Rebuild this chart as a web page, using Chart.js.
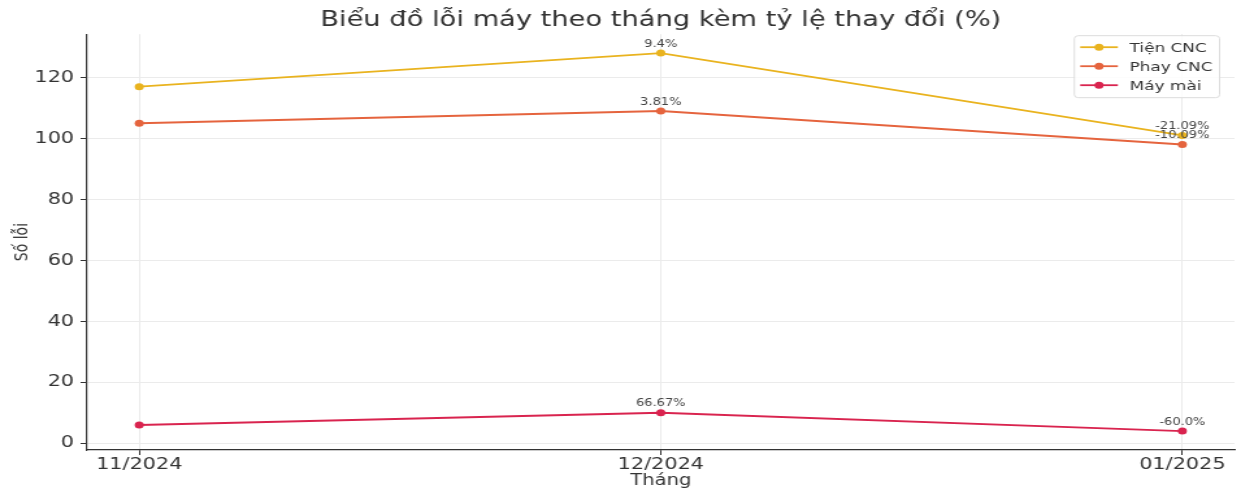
<!DOCTYPE html>
<html lang="vi">
<head>
<meta charset="utf-8">
<title>Biểu đồ lỗi máy theo tháng</title>
<script src="https://cdn.jsdelivr.net/npm/chart.js@4.4.1/dist/chart.umd.min.js"></script>
<style>
  html, body { margin: 0; padding: 0; background: #fff; overflow: hidden; }
</style>
</head>
<body>
<!-- drawing surface is rendered narrower and widened on screen -->
<canvas id="c" width="955" height="490" style="display:block;width:1241px;height:490px"></canvas>
<script>
// Months on the x axis
const months = ['11/2024', '12/2024', '01/2025'];

// Number of faults per machine type
const tienCNC = [117, 128, 101];
const phayCNC = [105, 109, 98];
const mayMai  = [6, 10, 4];

// Series names
const seriesNames = ['Tiện CNC', 'Phay CNC', 'Máy mài'];

// Y axis tick values
const yTicks = [0, 20, 40, 60, 80, 100, 120];

const FONT = "'DejaVu Sans', 'Liberation Sans', sans-serif";
const colors = ['#e9b31f', '#e5643e', '#d9244f'];
const seriesValues = [tienCNC, phayCNC, mayMai];

// Percent change, printed with up to two decimals (at least one)
function pctText(prev, cur) {
  const r = Math.round((cur - prev) / prev * 10000) / 100;
  return (Number.isInteger(r) ? r.toFixed(1) : String(r)) + '%';
}

// Writes the month-over-month change above each point after the first
const changeLabels = {
  id: 'changeLabels',
  afterDatasetsDraw(chart) {
    const ctx = chart.ctx;
    ctx.save();
    ctx.font = '10px ' + FONT;
    ctx.fillStyle = '#444';
    ctx.textAlign = 'center';
    ctx.textBaseline = 'middle';
    chart.data.datasets.forEach((ds, di) => {
      const meta = chart.getDatasetMeta(di);
      const vals = seriesValues[di];
      for (let i = 1; i < vals.length; i++) {
        const pt = meta.data[i];
        ctx.fillText(pctText(vals[i - 1], vals[i]), pt.x, pt.y - 9);
      }
    });
    ctx.restore();
  }
};

// Framed legend in the upper right corner of the plot
const boxLegend = {
  id: 'boxLegend',
  afterDraw(chart) {
    const ctx = chart.ctx;
    const ca = chart.chartArea;
    ctx.save();
    ctx.font = '13px ' + FONT;
    const labels = chart.data.datasets.map(d => d.label);
    const textW = Math.max(...labels.map(l => ctx.measureText(l).width));
    const pad = 5, handle = 29, gap = 9, rowH = 19;
    const w = pad + handle + gap + textW + pad;
    const h = rowH * labels.length + 5;
    const right = ca.right - 12;
    const left = right - w;
    const top = ca.top + 1;
    ctx.fillStyle = 'rgba(255,255,255,0.85)';
    ctx.strokeStyle = '#dcdcdc';
    ctx.lineWidth = 1;
    ctx.beginPath();
    ctx.roundRect(left + 0.5, top + 0.5, w, h, 3);
    ctx.fill();
    ctx.stroke();
    chart.data.datasets.forEach((ds, i) => {
      const y = top + 12 + i * rowH;
      ctx.strokeStyle = ds.borderColor;
      ctx.lineWidth = 1.8;
      ctx.beginPath();
      ctx.moveTo(left + pad, y);
      ctx.lineTo(left + pad + handle, y);
      ctx.stroke();
      ctx.fillStyle = ds.borderColor;
      ctx.beginPath();
      ctx.arc(left + pad + handle / 2, y, 3.5, 0, Math.PI * 2);
      ctx.fill();
      ctx.fillStyle = '#333';
      ctx.textAlign = 'left';
      ctx.textBaseline = 'middle';
      ctx.fillText(ds.label, left + pad + handle + gap, y + 1);
    });
    ctx.restore();
  }
};

const datasets = seriesValues.map((vals, i) => ({
  label: seriesNames[i],
  data: vals.map((v, k) => ({ x: k, y: v })),
  borderColor: colors[i],
  backgroundColor: colors[i],
  borderWidth: 1.9,
  pointRadius: 3.5,
  pointBorderWidth: 0,
  pointBackgroundColor: colors[i],
  tension: 0,
  fill: false
}));

new Chart(document.getElementById('c'), {
  type: 'line',
  data: { datasets },
  plugins: [changeLabels, boxLegend],
  options: {
    responsive: false,
    devicePixelRatio: 1,
    animation: false,
    layout: { padding: { left: 0, right: 5, top: 0, bottom: 0 } },
    plugins: {
      legend: { display: false },
      tooltip: { enabled: false },
      title: {
        display: true,
        fullSize: false,
        text: 'Biểu đồ lỗi máy theo tháng kèm tỷ lệ thay đổi (%)',
        color: '#333',
        font: { family: FONT, size: 21, weight: 'normal' },
        padding: { top: 8, bottom: 1 }
      }
    },
    scales: {
      x: {
        type: 'linear',
        position: 'bottom',
        min: -0.1,
        max: 2.1,
        afterBuildTicks: s => { s.ticks = months.map((m, i) => ({ value: i })); },
        afterFit: s => { s.height = 40; },
        ticks: {
          autoSkip: false,
          color: '#333',
          padding: 0,
          font: { family: FONT, size: 16 },
          callback: v => months[v]
        },
        grid: { color: '#ebebeb', lineWidth: 1, tickColor: '#333', tickLength: 5 },
        border: { color: '#333', width: 1.2 },
        title: {
          display: true,
          text: 'Tháng',
          color: '#333',
          font: { family: FONT, size: 15 },
          padding: { top: 0, bottom: 0 }
        }
      },
      y: {
        type: 'linear',
        min: -2.2,
        max: 134.2,
        afterBuildTicks: s => { s.ticks = yTicks.map(v => ({ value: v })); },
        afterFit: s => { s.width = 67; },
        ticks: {
          color: '#333',
          padding: 5,
          font: { family: FONT, size: 16 }
        },
        grid: { color: '#ebebeb', lineWidth: 1, tickColor: '#333', tickLength: 5 },
        border: { color: '#333', width: 1.2 },
        title: {
          display: true,
          text: 'Số lỗi',
          color: '#333',
          font: { family: FONT, size: 14 },
          padding: { top: 9, bottom: 0 }
        }
      }
    }
  }
});
</script>
</body>
</html>
